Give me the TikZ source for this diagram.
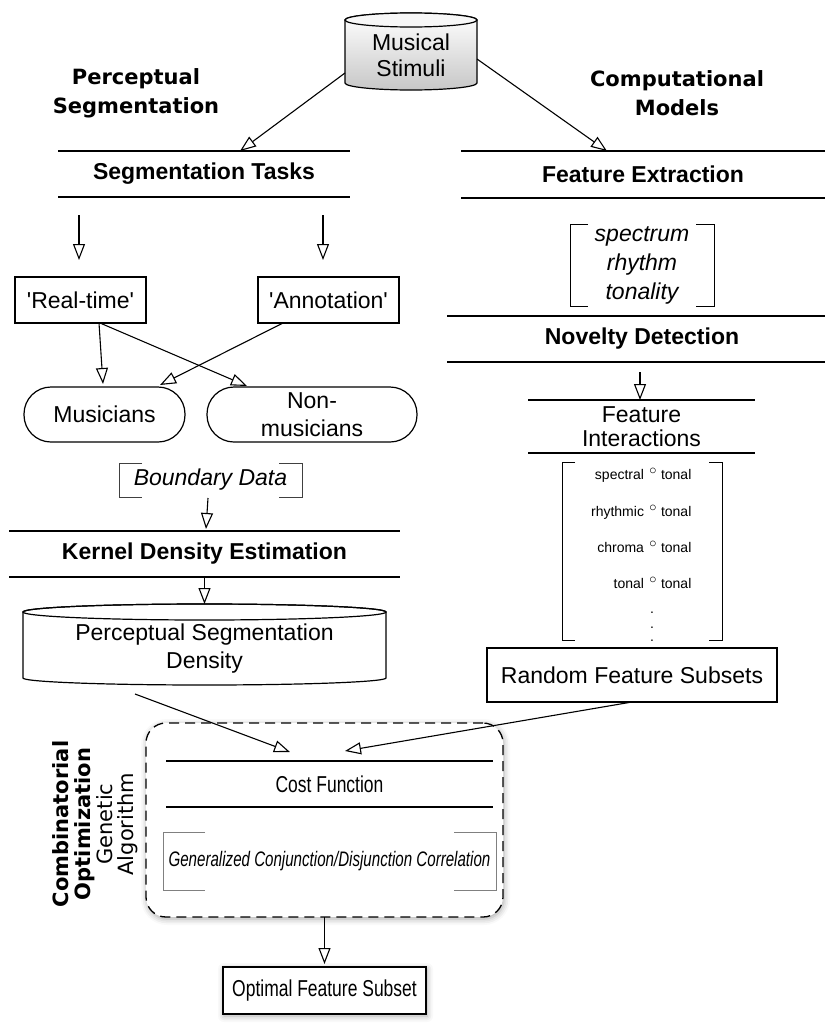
\documentclass[tikz,border=0pt]{standalone}
\usepackage{fontspec}
\setmainfont{Liberation Sans}
\newfontfamily\headfont{DejaVu Sans}
\usetikzlibrary{arrows.meta,calc,shadows.blur}
\newcommand\bracketit[3]{%
  \draw[line width=1pt,#3] ($(#1.north west)+(#2,0)$) -| (#1.south west) -- ++(#2,0);
  \draw[line width=1pt,#3] ($(#1.north east)+(-#2,0)$) -| (#1.south east) -- ++(-#2,0);}
\begin{document}
\begin{tikzpicture}[x=1pt,y=-1pt,
  every node/.style={inner sep=0pt, outer sep=0pt},
  lw/.style={line width=1.2pt},
  base/.style={font=\fontsize{23}{28}\selectfont},
  band/.style={minimum height=46pt, font=\fontsize{23}{28}\selectfont\bfseries},
  box/.style={draw, line width=1.2pt, font=\fontsize{23}{28}\selectfont},
  title/.style={align=center, font=\headfont\bfseries\fontsize{21}{29}\selectfont},
  small/.style={font=\fontsize{14}{16}\selectfont},
  arr/.style={draw, line width=1.1pt, -{Triangle[open, length=16pt, width=12pt]}},
  shad/.style={blur shadow={shadow xshift=1pt, shadow yshift=-2pt, shadow blur radius=6pt, shadow opacity=35}}
]
\useasboundingbox (0,0) rectangle (825,1023);

% Musical Stimuli cylinder
\shadedraw[top color=white, bottom color=black!22, line width=1.2pt]
  (345,20) -- (345,83) arc[start angle=180, end angle=360, x radius=66pt, y radius=7pt]
  -- (477,20) arc[start angle=0, end angle=180, x radius=66pt, y radius=7pt] -- cycle;
\draw[line width=1.2pt, fill=black!3] (411,20) ellipse [x radius=66pt, y radius=7pt];
\node[align=center, minimum width=132pt, minimum height=70pt, font=\fontsize{23}{26}\selectfont] (stim) at (411,55) {Musical\\Stimuli};

% Titles
\node[title] (pstitle) at (136,93) {Perceptual\\Segmentation};
\node[title] (cmtitle) at (677,93) {Computational\\Models};

% Segmentation Tasks
\node[band, minimum width=292pt] (tasks) at (204,174) {Segmentation Tasks};
\draw[lw] (tasks.north west) -- (tasks.north east) (tasks.south west) -- (tasks.south east);

% Right column header
\node[band, minimum width=364pt, minimum height=47pt] (fe) at (643,174.5) {Feature Extraction};
\draw[lw] (fe.north west) -- (fe.north east) (fe.south west) -- (fe.south east);

\draw[arr] ([yshift=-18pt]stim.west) -- ($(tasks.north west)+(182,0)$);
\draw[arr] ([yshift=-4pt]stim.east) -- ($(fe.north west)+(146,0)$);

\node[box, minimum width=131pt, minimum height=46pt] (rt) at (80.5,300) {\textquotesingle Real-time\textquotesingle};
\node[box, minimum width=141pt, minimum height=46pt] (ann) at (328.5,300) {\textquotesingle Annotation\textquotesingle};

\draw[arr] ($(tasks.south west)+(21,18)$) -- ($(rt.north)+(-1.5,-17)$);
\draw[arr] ($(tasks.south west)+(265,18)$) -- ($(ann.north)+(-5.5,-17)$);

\node[box, rounded corners=27pt, minimum width=161pt, minimum height=55pt] (mus) at (104.5,414.5) {Musicians};
\node[box, rounded corners=27pt, minimum width=210pt, minimum height=55pt, align=center] (non) at (312,414.5) {Non-\\musicians};

\draw[arr] ($(rt.south)+(18.5,0)$) -- ($(mus.north)+(-1.5,-3)$);
\draw[arr] ($(rt.south)+(19.5,0)$) -- ($(non.north)+(-65,-1)$);
\draw[arr] ($(ann.south)+(-45.5,0)$) -- ($(mus.north)+(55.5,-2)$);

% Boundary data
\node[font=\fontsize{23}{28}\selectfont\itshape, minimum width=183pt, minimum height=34pt] (bd) at (210.5,480) {Boundary Data};
\bracketit{bd}{23}{black!75}

\node[band, minimum width=391pt] (kde) at (204.5,554) {Kernel Density Estimation};
\draw[lw] (kde.north west) -- (kde.north east) (kde.south west) -- (kde.south east);
\draw[arr] ($(bd.south)+(-2.5,1)$) -- ($(kde.north)+(1.5,-2)$);

% Perceptual segmentation density cylinder
\draw[lw, fill=white] (23,612) -- (23,678) arc[start angle=180, end angle=360, x radius=181.5pt, y radius=7pt]
  -- (386,612) arc[start angle=0, end angle=180, x radius=181.5pt, y radius=8pt] -- cycle;
\draw[lw] (204.5,612) ellipse [x radius=181.5pt, y radius=8pt];
\node[base, align=center, minimum width=363pt, minimum height=73pt] (psd) at (204.5,648.5) {Perceptual Segmentation\\Density};
\draw[arr] (kde.south) -- ($(psd.north)+(0,-8)$);

% Right column
\node[font=\fontsize{23}{29}\selectfont\itshape, align=center, minimum width=144pt, minimum height=82pt] (feat) at (642,265) {spectrum\\rhythm\\tonality};
\bracketit{feat}{18}{black}

\node[band, minimum width=366pt] (nd) at (642,339) {Novelty Detection};
\draw[lw] ($(nd.north west)+(-12,0)$) -- (nd.north east) ($(nd.south west)+(-12,0)$) -- (nd.south east);

\node[align=center, minimum width=227pt, minimum height=53pt, font=\fontsize{23}{24}\selectfont] (fi) at (641.5,426.5) {Feature\\Interactions};
\draw[lw] (fi.north west) -- (fi.north east) (fi.south west) -- (fi.south east);
\draw[arr] ($(nd.south)+(-2,10)$) -- ($(fi.north)+(-1.5,0)$);

% Matrix
\node[minimum width=160pt, minimum height=178pt] (mat) at (642,551) {};
\bracketit{mat}{13}{black}
\node[small, anchor=base east] (l1) at (644,479) {spectral};
\node[small] (c1) at (653,471) {$\circ$};
\node[small, anchor=base west] (r1) at (661,479) {tonal};
\node[small, anchor=base east] (l2) at (644,516) {rhythmic};
\node[small] (c2) at (653,508) {$\circ$};
\node[small, anchor=base west] (r2) at (661,516) {tonal};
\node[small, anchor=base east] (l3) at (644,552) {chroma};
\node[small] (c3) at (653,544) {$\circ$};
\node[small, anchor=base west] (r3) at (661,552) {tonal};
\node[small, anchor=base east] (l4) at (644,588) {tonal};
\node[small] (c4) at (653,580) {$\circ$};
\node[small, anchor=base west] (r4) at (661,588) {tonal};
\node[small, anchor=base] (d1) at (652,613) {.};
\node[small, anchor=base] (d2) at (652,628) {.};
\node[small, anchor=base] (d3) at (652,641) {.};

\node[box, minimum width=290pt, minimum height=54pt] (rfs) at (632,675) {Random Feature Subsets};

% Optimization area
\node[draw, dash pattern=on 10pt off 6pt, line width=1.3pt, rounded corners=20pt, fill=white,
      minimum width=357pt, minimum height=194pt, shad] (area) at (324.5,820) {};
\node[minimum width=327pt, minimum height=46pt, font=\fontsize{23}{28}\selectfont] (cost) at (329.5,784) {\scalebox{0.76}[1]{Cost Function}};
\draw[lw] (cost.north west) -- (cost.north east) (cost.south west) -- (cost.south east);
\node[minimum width=333pt, minimum height=58pt, font=\fontsize{21}{26}\selectfont\itshape] (gcdc) at (329.5,861) {\scalebox{0.72}[1]{Generalized Conjunction/Disjunction Correlation}};
\bracketit{gcdc}{42}{black!50}

\draw[arr] ($(psd.south)+(-69.5,9)$) -- ($(cost.north west)+(124,-9)$);
\draw[arr] (rfs.south) -- ($(cost.north west)+(179,-10)$);

\node[box, fill=white, minimum width=203pt, minimum height=47pt, shad] (opt) at (324.5,990.5) {\scalebox{0.76}[1]{Optimal Feature Subset}};
\draw[arr] (area.south) -- ($(opt.north)+(0,-3)$);

% Rotated labels
\node[rotate=90, align=center, font=\headfont\bfseries\fontsize{21}{22}\selectfont] (co) at (74,824) {Combinatorial\\Optimization};
\node[rotate=90, align=center, font=\headfont\fontsize{21}{21}\selectfont] (ga) at (117,824) {Genetic\\Algorithm};
\end{tikzpicture}
\end{document}
